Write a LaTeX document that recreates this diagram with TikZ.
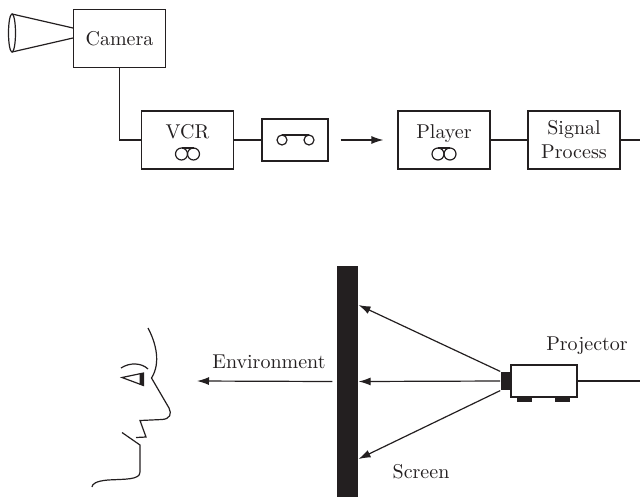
\documentclass[tikz,border=0pt]{standalone}
\usepackage{tikz}
\usetikzlibrary{arrows.meta}
\definecolor{ink}{RGB}{35,31,32}

\tikzset{
  blk/.style={draw, minimum width=46pt, minimum height=29pt, inner sep=0pt, align=center},
  solid block/.style={fill=ink, inner sep=0pt},
}
% two tape reels with a flat top
\newcommand{\reels}[2]{%
  \draw (#1-6,#2) circle [radius=6];
  \draw (#1+6,#2) circle [radius=6];
  \draw (#1-6,#2-6) -- (#1+6,#2-6);
}

\begin{document}
\begin{tikzpicture}[x=0.5pt,y=-0.5pt,color=ink,line width=0.6pt,>={Latex[length=6pt,width=4pt]}]
\useasboundingbox (0,0) rectangle (640,498);

% recording and playback chain
\node[blk] (camera) at (119.5,38.5) {Camera};
\node[blk] (vcr) at (187.5,140) {};
\node[anchor=base] (vcrtxt) at (187.5,138) {VCR};
\node[blk, minimum width=33pt, minimum height=21pt] (tape) at (295,140) {};
\node[blk] (player) at (444,140) {};
\node[anchor=base] (playertxt) at (444,138) {Player};
\node[blk] (signal) at (574,140) {Signal\\Process};
\coordinate (out1) at (640,140);

\reels{187.5}{154}
\reels{444}{154}
% cassette
\draw (282,140) circle [radius=5];
\draw (309,140) circle [radius=5];
\draw (282,135) -- (309,135);

% camera lens
\draw (12,33) ellipse [x radius=3.5, y radius=19];
\draw (12,14) -- (73,28);
\draw (12,52) -- (73,38);

\draw (camera.south) |- (vcr.west);
\draw (vcr) -- (tape);
\draw[->] ([xshift=6pt]tape.east) -- ([xshift=-7pt]player.west);
\draw (player) -- (signal);
\draw (signal) -- (out1);

% screen and projector
\node[solid block, minimum width=10.5pt, minimum height=115.5pt] (screen) at (347.5,381.5) {};
\node[anchor=base] (screentxt) at (421,478) {Screen};
\node[draw, minimum width=33pt, minimum height=16pt, inner sep=0pt] (projector) at (544,381) {};
\node[solid block, minimum width=4.5pt, minimum height=9pt, anchor=east] (lens) at (projector.west) {};
\node[anchor=base] (projtxt) at (587,350) {Projector};
\fill (517,397) rectangle (532,402);
\fill (555,397) rectangle (570,402);
\coordinate (out2) at (640,381);
\coordinate (hitT) at (358.5,305);
\coordinate (hitB) at (358.5,459);

\draw[->] (lens.north west) -- (hitT);
\draw[->] (lens.west) -- (screen.east);
\draw[->] (lens.south west) -- (hitB);
\draw (projector) -- (out2);

% light going out to the viewer
\node[anchor=base] (envtxt) at (269,368) {Environment};
\coordinate (envend) at (197,381);
\draw[->] ([xshift=-2pt]screen.west) -- (envend);

% viewer's face
\draw (148,328) .. controls (156,343) and (161,363) .. (151.5,378)
  -- (169,408) .. controls (172,414) and (170,419) .. (162,419.5)
  -- (140,420.5) -- (146,437) -- (136,437.5);
\draw (122,432.5) -- (140,445) -- (140,472)
  .. controls (140,480) and (125,479) .. (108,480)
  .. controls (96,481) and (92,484) .. (92,487);
\draw (122,377.5) -- (143.5,373) -- (143.5,385.5) -- cycle;
\fill (139.5,374) -- (143.5,373) -- (143.5,385.5) -- (139.5,384.5) -- cycle;
\draw (121,368) .. controls (130,362) and (142,363) .. (148,369);
\end{tikzpicture}
\end{document}
